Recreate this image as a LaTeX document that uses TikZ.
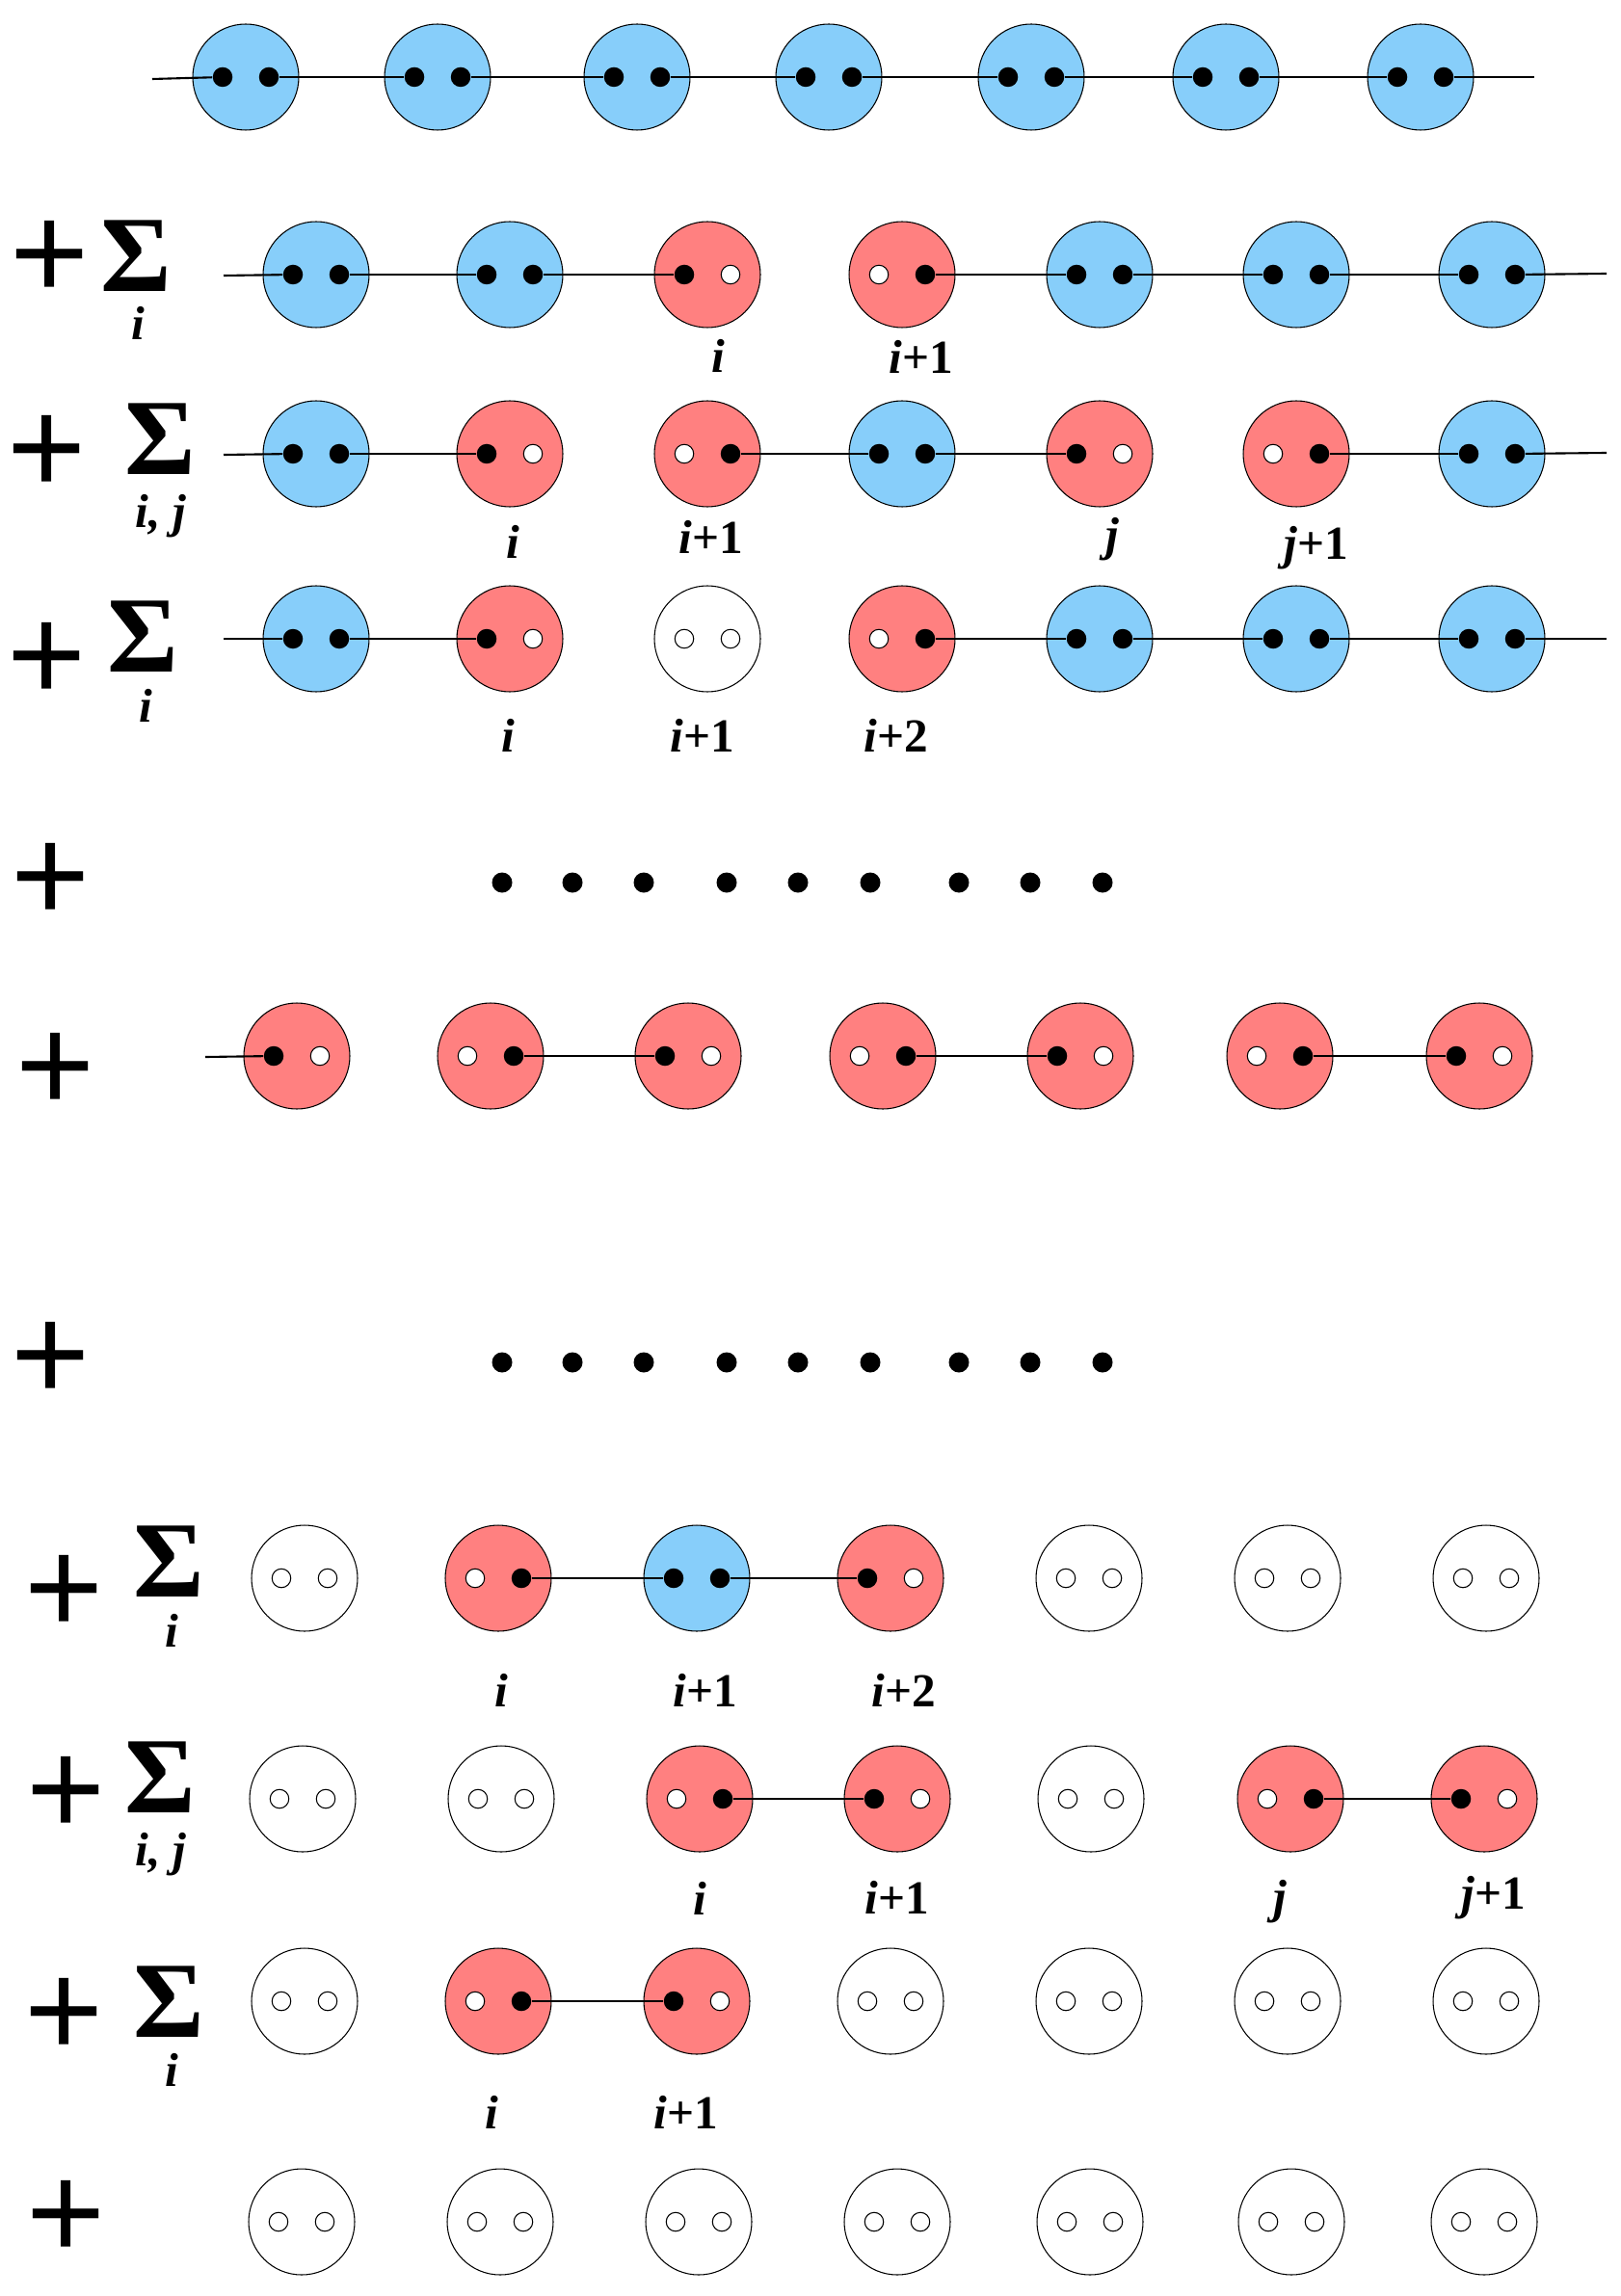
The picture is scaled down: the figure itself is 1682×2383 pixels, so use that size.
\documentclass[tikz,border=0pt]{standalone}
\usepackage{fontspec}
\setmainfont{Liberation Serif}
\newfontfamily\plusfont{Liberation Sans}
\usepackage{tikz}
\usetikzlibrary{positioning}
\definecolor{spinblue}{RGB}{135,206,250}
\definecolor{holered}{RGB}{255,128,128}
% one site: circle plus its two orbitals
\newcommand{\spinsite}[6]{%
  \node[site, fill=#4] (#1) at (#2,#3) {};
  \node[#5, xshift=-2.4mm] (#1l) at (#1) {};
  \node[#6, xshift=2.4mm]  (#1r) at (#1) {};}

\begin{document}
\begin{tikzpicture}[x=0.1mm, y=-0.1mm,
  site/.style={circle, draw, line width=0.3pt, minimum size=11mm, inner sep=0pt},
  occ/.style={circle, fill=black, minimum size=2.05mm, inner sep=0pt},
  vac/.style={circle, draw, fill=white, line width=0.3pt, minimum size=1.95mm, inner sep=0pt},
  bond/.style={line width=0.6pt},
  bead/.style={circle, fill=black, minimum size=2.1mm, inner sep=0pt},
  plus/.style={font=\plusfont\fontsize{40}{40}\selectfont, inner sep=0pt},
  sigma/.style={font=\fontsize{32}{32}\selectfont\bfseries, inner sep=0pt},
  lbl/.style={font=\fontsize{14}{14}\selectfont\bfseries, inner sep=0pt}]
\useasboundingbox (0,0) rectangle (1682,2383);
% Row 1: full chain
\foreach \k/\x in {1/255, 2/454, 3/661, 4/860, 5/1070, 6/1272, 7/1474}
  {\spinsite{a\k}{\x}{80}{spinblue}{occ}{occ}}
\coordinate (a0) at (158,82);
\coordinate (a8) at (1592,80);
\draw[bond] (a0) -- (a1l);
\foreach \p/\q in {a1/a2, a2/a3, a3/a4, a4/a5, a5/a6, a6/a7}
  \draw[bond] (\p r) -- (\q l);
\draw[bond] (a7r) -- (a8);
% Row 2: one broken bond
\node[plus] (pb) at (52,270) {+};
\node[sigma] (sb) at (141,266) {Σ};
\node[lbl] (ib) at (143,335) {\textit{i}};
\foreach \k/\x/\fc/\ld/\rd in {1/328/spinblue/occ/occ, 2/529/spinblue/occ/occ,
  3/734/holered/occ/vac, 4/936/holered/vac/occ, 5/1141/spinblue/occ/occ,
  6/1345/spinblue/occ/occ, 7/1548/spinblue/occ/occ}
  {\spinsite{b\k}{\x}{285}{\fc}{\ld}{\rd}}
\coordinate (b0) at (232,286);
\coordinate (b8) at (1667,284);
\draw[bond] (b0) -- (b1l);
\foreach \p/\q in {b1/b2, b2/b3, b4/b5, b5/b6, b6/b7}
  \draw[bond] (\p r) -- (\q l);
\draw[bond] (b7r) -- (b8);
\node[lbl] at (745,369) {\textit{i}};
\node[lbl] at (956,370) {\textit{i}+1};
% Row 3: two broken bonds
\node[plus] (pc) at (49,472) {+};
\node[sigma] (sc) at (166,456) {Σ};
\node[lbl] (ic) at (167,536) {\textit{i, j}};
\foreach \k/\x/\fc/\ld/\rd in {1/328/spinblue/occ/occ, 2/529/holered/occ/vac,
  3/734/holered/vac/occ, 4/936/spinblue/occ/occ, 5/1141/holered/occ/vac,
  6/1345/holered/vac/occ, 7/1548/spinblue/occ/occ}
  {\spinsite{c\k}{\x}{471}{\fc}{\ld}{\rd}}
\coordinate (c0) at (232,472);
\coordinate (c8) at (1667,470);
\draw[bond] (c0) -- (c1l);
\foreach \p/\q in {c1/c2, c3/c4, c4/c5, c6/c7}
  \draw[bond] (\p r) -- (\q l);
\draw[bond] (c7r) -- (c8);
\node[lbl] at (532,562) {\textit{i}};
\node[lbl] at (738,557) {\textit{i}+1};
\node[lbl] at (1154,560) {\textit{j}};
\node[lbl] at (1366,569) {\textit{j}+1};
% Row 4: empty site between two holes
\node[plus] (pd) at (49,687) {+};
\node[sigma] (sd) at (148,661) {Σ};
\node[lbl] (id) at (151,732) {\textit{i}};
\foreach \k/\x/\fc/\ld/\rd in {1/328/spinblue/occ/occ, 2/529/holered/occ/vac,
  3/734/white/vac/vac, 4/936/holered/vac/occ, 5/1141/spinblue/occ/occ,
  6/1345/spinblue/occ/occ, 7/1548/spinblue/occ/occ}
  {\spinsite{d\k}{\x}{663}{\fc}{\ld}{\rd}}
\coordinate (d0) at (232,663);
\coordinate (d8) at (1667,663);
\draw[bond] (d0) -- (d1l);
\foreach \p/\q in {d1/d2, d4/d5, d5/d6, d6/d7}
  \draw[bond] (\p r) -- (\q l);
\draw[bond] (d7r) -- (d8);
\node[lbl] at (527,763) {\textit{i}};
\node[lbl] at (729,763) {\textit{i}+1};
\node[lbl] at (930,763) {\textit{i}+2};
% Row 5: ellipsis
\node[plus] (pe) at (53,916) {+};
\foreach \k/\x in {1/521, 2/594, 3/668, 4/754, 5/828, 6/903, 7/995, 8/1069, 9/1144}
  \node[bead] (u\k) at (\x,916) {};
% Row 6: all holes, paired
\node[plus] (pf) at (58,1113) {+};
\foreach \k/\x/\ld/\rd in {1/308/occ/vac, 2/509/vac/occ, 3/714/occ/vac,
  4/916/vac/occ, 5/1121/occ/vac, 6/1328/vac/occ, 7/1535/occ/vac}
  {\spinsite{e\k}{\x}{1096}{holered}{\ld}{\rd}}
\coordinate (e0) at (213,1097);
\draw[bond] (e0) -- (e1l);
\foreach \p/\q in {e2/e3, e4/e5, e6/e7}
  \draw[bond] (\p r) -- (\q l);
% Row 7: ellipsis
\node[plus] (pg) at (53,1413) {+};
\foreach \k/\x in {1/521, 2/594, 3/668, 4/754, 5/828, 6/903, 7/995, 8/1069, 9/1144}
  \node[bead] (w\k) at (\x,1414) {};
% Row 8: hole - spin - hole
\node[plus] (ph) at (67,1655) {+};
\node[sigma] (sh) at (175,1621) {Σ};
\node[lbl] (ih) at (178,1692) {\textit{i}};
\foreach \k/\x/\fc/\ld/\rd in {1/316/white/vac/vac, 2/517/holered/vac/occ,
  3/723/spinblue/occ/occ, 4/924/holered/occ/vac, 5/1130/white/vac/vac,
  6/1336/white/vac/vac, 7/1542/white/vac/vac}
  {\spinsite{f\k}{\x}{1638}{\fc}{\ld}{\rd}}
\draw[bond] (f2r) -- (f3l);
\draw[bond] (f3r) -- (f4l);
\node[lbl] at (520,1754) {\textit{i}};
\node[lbl] at (732,1754) {\textit{i}+1};
\node[lbl] at (938,1754) {\textit{i}+2};
% Row 9: two hole pairs
\node[plus] (pk) at (69,1864) {+};
\node[sigma] (sk) at (166,1845) {Σ};
\node[lbl] (ik) at (167,1925) {\textit{i, j}};
\foreach \k/\x/\fc/\ld/\rd in {1/314/white/vac/vac, 2/520/white/vac/vac,
  3/726/holered/vac/occ, 4/931/holered/occ/vac, 5/1132/white/vac/vac,
  6/1339/holered/vac/occ, 7/1540/holered/occ/vac}
  {\spinsite{g\k}{\x}{1867}{\fc}{\ld}{\rd}}
\draw[bond] (g3r) -- (g4l);
\draw[bond] (g6r) -- (g7l);
\node[lbl] at (726,1970) {\textit{i}};
\node[lbl] at (931,1969) {\textit{i}+1};
\node[lbl] at (1328,1974) {\textit{j}};
\node[lbl] at (1550,1970) {\textit{j}+1};
% Row 10: one hole pair
\node[plus] (pm) at (67,2094) {+};
\node[sigma] (sm) at (175,2078) {Σ};
\node[lbl] (im) at (178,2148) {\textit{i}};
\foreach \k/\x/\fc/\ld/\rd in {1/316/white/vac/vac, 2/517/holered/vac/occ,
  3/723/holered/occ/vac, 4/924/white/vac/vac, 5/1130/white/vac/vac,
  6/1336/white/vac/vac, 7/1542/white/vac/vac}
  {\spinsite{h\k}{\x}{2077}{\fc}{\ld}{\rd}}
\draw[bond] (h2r) -- (h3l);
\node[lbl] at (510,2192) {\textit{i}};
\node[lbl] at (712,2192) {\textit{i}+1};
% Row 11: empty chain
\node[plus] (pn) at (69,2304) {+};
\foreach \k/\x in {1/313, 2/519, 3/725, 4/931, 5/1131, 6/1340, 7/1540}
  {\spinsite{n\k}{\x}{2306}{white}{vac}{vac}}
\end{tikzpicture}
\end{document}
